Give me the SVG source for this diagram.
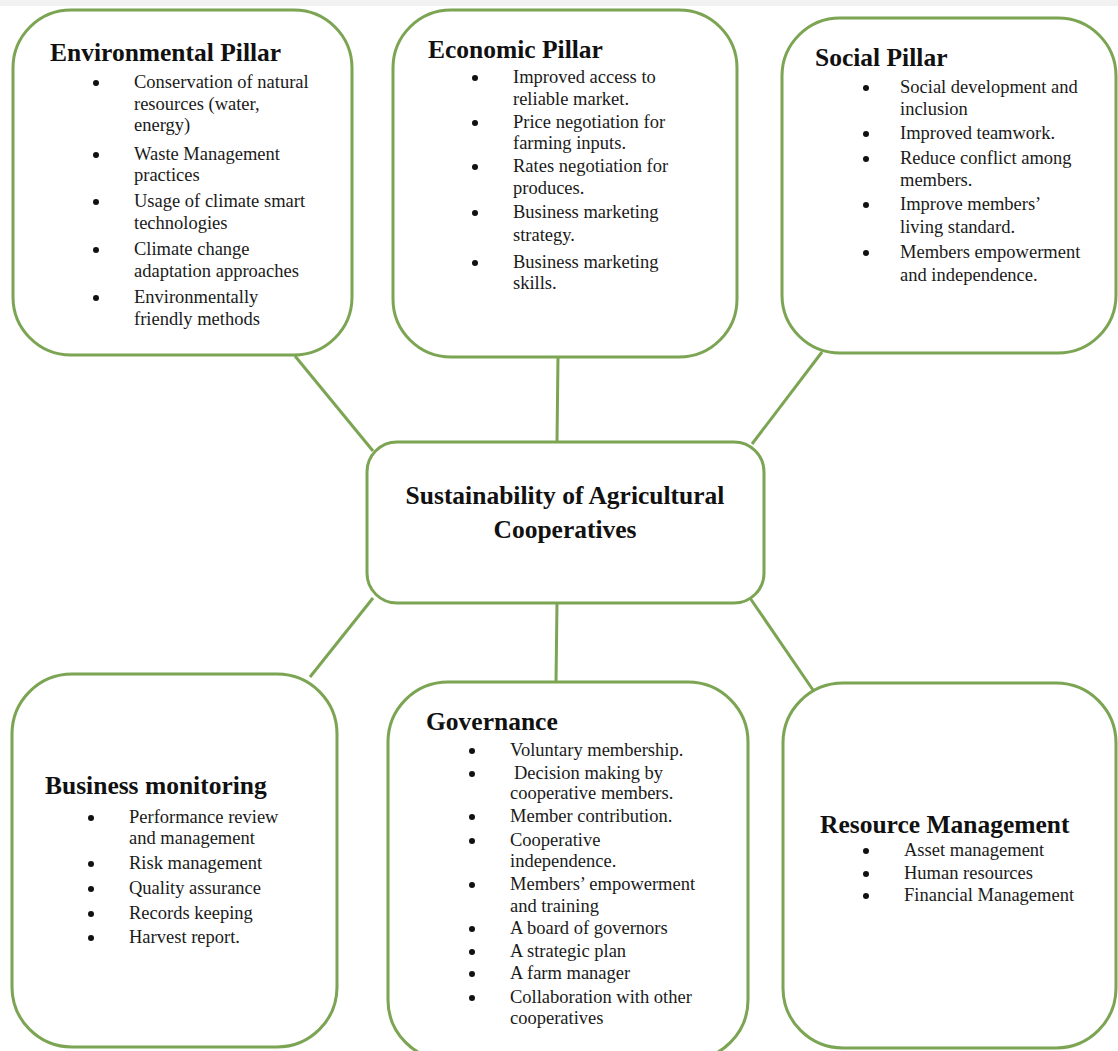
<svg xmlns="http://www.w3.org/2000/svg" width="1118" height="1051" viewBox="0 0 1118 1051">
<style>
.box{fill:#ffffff;stroke:#7ba453;stroke-width:3}
.conn{stroke:#7ba453;stroke-width:3;fill:none}
.t{font-family:"Liberation Serif","Times New Roman",serif;font-size:25.5px;font-weight:bold;fill:#111}
.b{font-family:"Liberation Serif","Times New Roman",serif;font-size:18.5px;fill:#1a1a1a}
.dot{fill:#111}
</style>
<rect x="0" y="0" width="1118" height="1051" fill="#ffffff"/>
<rect x="0" y="0" width="1118" height="6" fill="#f2f2f2"/>
<g id="connectors">
<line class="conn" x1="295" y1="356" x2="373" y2="451"/>
<line class="conn" x1="558" y1="357" x2="557" y2="442"/>
<line class="conn" x1="822" y1="352" x2="752" y2="444"/>
<line class="conn" x1="373" y1="598" x2="310" y2="677"/>
<line class="conn" x1="557" y1="603" x2="556" y2="682"/>
<line class="conn" x1="750" y1="598" x2="813" y2="690"/>
</g>
<g id="environmental">
<rect class="box" x="13" y="10" width="339" height="345" rx="58"/>
<text class="t" x="50" y="61">Environmental Pillar</text>
<circle class="dot" cx="96" cy="83" r="3"/><text class="b" x="134" y="88">Conservation of natural</text>
<text class="b" x="134" y="110">resources (water,</text>
<text class="b" x="134" y="131">energy)</text>
<circle class="dot" cx="96" cy="155" r="3"/><text class="b" x="134" y="160">Waste Management</text>
<text class="b" x="134" y="181">practices</text>
<circle class="dot" cx="96" cy="202" r="3"/><text class="b" x="134" y="207">Usage of climate smart</text>
<text class="b" x="134" y="229">technologies</text>
<circle class="dot" cx="96" cy="250" r="3"/><text class="b" x="134" y="255">Climate change</text>
<text class="b" x="134" y="277">adaptation approaches</text>
<circle class="dot" cx="96" cy="298" r="3"/><text class="b" x="134" y="303">Environmentally</text>
<text class="b" x="134" y="325">friendly methods</text>
</g>
<g id="economic">
<rect class="box" x="393" y="10" width="344" height="347" rx="58"/>
<text class="t" x="428" y="58">Economic Pillar</text>
<circle class="dot" cx="475" cy="78" r="3"/><text class="b" x="513" y="83">Improved access to</text>
<text class="b" x="513" y="105">reliable market.</text>
<circle class="dot" cx="475" cy="123" r="3"/><text class="b" x="513" y="128">Price negotiation for</text>
<text class="b" x="513" y="149">farming inputs.</text>
<circle class="dot" cx="475" cy="167" r="3"/><text class="b" x="513" y="172">Rates negotiation for</text>
<text class="b" x="513" y="194">produces.</text>
<circle class="dot" cx="475" cy="213" r="3"/><text class="b" x="513" y="218">Business marketing</text>
<text class="b" x="513" y="241">strategy.</text>
<circle class="dot" cx="475" cy="263" r="3"/><text class="b" x="513" y="268">Business marketing</text>
<text class="b" x="513" y="289">skills.</text>
</g>
<g id="social">
<rect class="box" x="782" y="18" width="334" height="335" rx="58"/>
<text class="t" x="815" y="66">Social Pillar</text>
<circle class="dot" cx="866" cy="88" r="3"/><text class="b" x="900" y="93">Social development and</text>
<text class="b" x="900" y="115">inclusion</text>
<circle class="dot" cx="866" cy="134" r="3"/><text class="b" x="900" y="139">Improved teamwork.</text>
<circle class="dot" cx="866" cy="159" r="3"/><text class="b" x="900" y="164">Reduce conflict among</text>
<text class="b" x="900" y="186">members.</text>
<circle class="dot" cx="866" cy="205" r="3"/><text class="b" x="900" y="210">Improve members’</text>
<text class="b" x="900" y="233">living standard.</text>
<circle class="dot" cx="866" cy="253" r="3"/><text class="b" x="900" y="258">Members empowerment</text>
<text class="b" x="900" y="281">and independence.</text>
</g>
<g id="center">
<rect class="box" x="367" y="442" width="397" height="161" rx="30"/>
<text class="t" x="565" y="504" text-anchor="middle">Sustainability of Agricultural</text>
<text class="t" x="565" y="538" text-anchor="middle">Cooperatives</text>
</g>
<g id="business">
<rect class="box" x="12" y="674" width="325" height="373" rx="60"/>
<text class="t" x="45" y="794">Business monitoring</text>
<circle class="dot" cx="91" cy="818" r="3"/><text class="b" x="129" y="823">Performance review</text>
<text class="b" x="129" y="844">and management</text>
<circle class="dot" cx="91" cy="864" r="3"/><text class="b" x="129" y="869">Risk management</text>
<circle class="dot" cx="91" cy="889" r="3"/><text class="b" x="129" y="894">Quality assurance</text>
<circle class="dot" cx="91" cy="914" r="3"/><text class="b" x="129" y="919">Records keeping</text>
<circle class="dot" cx="91" cy="938" r="3"/><text class="b" x="129" y="943">Harvest report.</text>
</g>
<g id="governance">
<rect class="box" x="388" y="682" width="360" height="378" rx="60"/>
<text class="t" x="426" y="730">Governance</text>
<circle class="dot" cx="472" cy="751" r="3"/><text class="b" x="510" y="756">Voluntary membership.</text>
<circle class="dot" cx="472" cy="774" r="3"/><text class="b" x="514" y="779">Decision making by</text>
<text class="b" x="510" y="799">cooperative members.</text>
<circle class="dot" cx="472" cy="817" r="3"/><text class="b" x="510" y="822">Member contribution.</text>
<circle class="dot" cx="472" cy="841" r="3"/><text class="b" x="510" y="846">Cooperative</text>
<text class="b" x="510" y="867">independence.</text>
<circle class="dot" cx="472" cy="885" r="3"/><text class="b" x="510" y="890">Members’ empowerment</text>
<text class="b" x="510" y="912">and training</text>
<circle class="dot" cx="472" cy="929" r="3"/><text class="b" x="510" y="934">A board of governors</text>
<circle class="dot" cx="472" cy="952" r="3"/><text class="b" x="510" y="957">A strategic plan</text>
<circle class="dot" cx="472" cy="974" r="3"/><text class="b" x="510" y="979">A farm manager</text>
<circle class="dot" cx="472" cy="998" r="3"/><text class="b" x="510" y="1003">Collaboration with other</text>
<text class="b" x="510" y="1024">cooperatives</text>
</g>
<g id="resource">
<rect class="box" x="783" y="683" width="333" height="365" rx="60"/>
<text class="t" x="820" y="833">Resource Management</text>
<circle class="dot" cx="866" cy="851" r="3"/><text class="b" x="904" y="856">Asset management</text>
<circle class="dot" cx="866" cy="874" r="3"/><text class="b" x="904" y="879">Human resources</text>
<circle class="dot" cx="866" cy="896" r="3"/><text class="b" x="904" y="901">Financial Management</text>
</g>
</svg>
